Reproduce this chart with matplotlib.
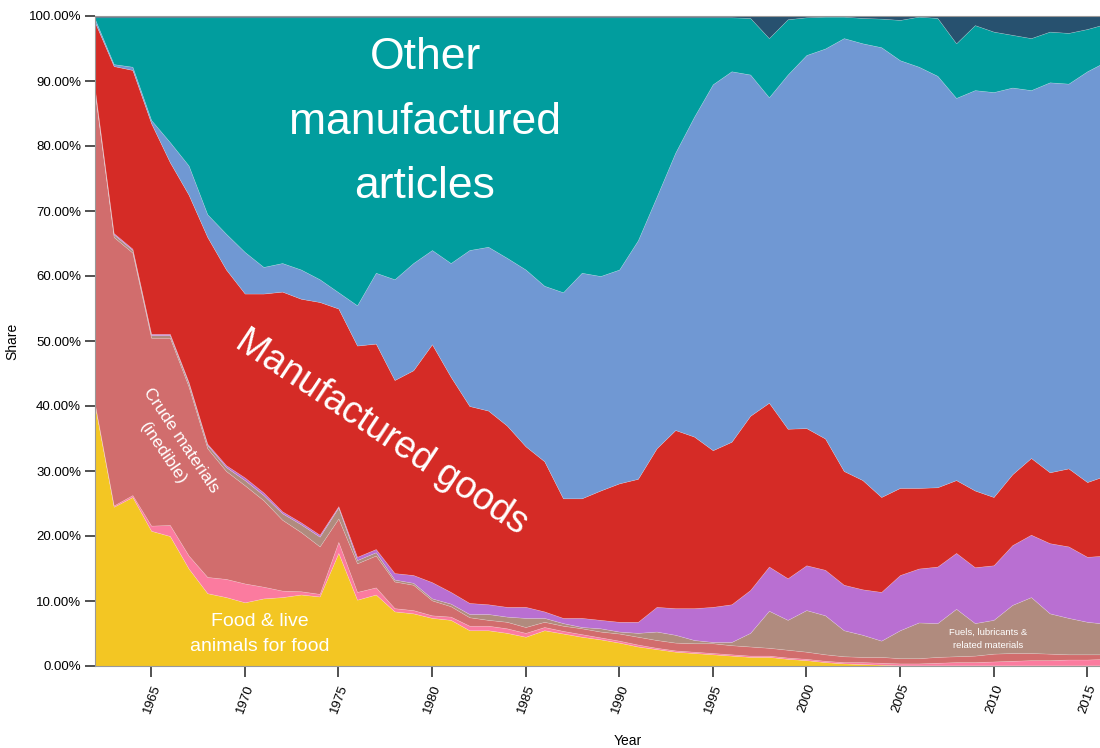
import matplotlib
matplotlib.use("Agg")
import matplotlib.pyplot as plt
import numpy as np

plt.rcParams['font.family'] = ['Liberation Sans', 'DejaVu Sans']

years = list(range(1962, 2017))

food = [40.0, 24.5, 26.0, 20.8, 20.0, 15.0, 11.2, 10.6, 9.8, 10.4,
        10.6, 11.0, 10.7, 17.4, 10.2, 11.0, 8.4, 8.1, 7.4, 7.1,
        5.5, 5.5, 5.1, 4.5, 5.5, 5.0, 4.5, 4.1, 3.6, 3.0,
        2.6, 2.2, 2.0, 1.8, 1.6, 1.4, 1.4, 1.1, 0.9, 0.6,
        0.4, 0.3, 0.2, 0.1, 0.1, 0.1, 0.1, 0.1, 0.1, 0.1,
        0.1, 0.1, 0.1, 0.1, 0.1]
beverages = [0.2, 0.2, 0.3, 0.8, 1.7, 2.0, 2.5, 2.8, 2.9, 1.8,
             1.0, 0.5, 0.4, 1.7, 1.2, 1.1, 0.5, 0.5, 0.4, 0.5,
             0.7, 0.7, 0.7, 0.6, 0.5, 0.4, 0.4, 0.3, 0.3, 0.3,
             0.2, 0.2, 0.2, 0.2, 0.2, 0.2, 0.2, 0.2, 0.2, 0.2,
             0.2, 0.3, 0.3, 0.3, 0.3, 0.4, 0.5, 0.5, 0.6, 0.7,
             0.8, 0.8, 0.9, 0.9, 1.0]
crude = [47.8, 41.3, 37.3, 28.9, 28.8, 26.0, 19.8, 16.6, 15.1, 13.3,
         10.9, 9.1, 7.3, 3.6, 4.4, 4.9, 4.1, 3.9, 2.3, 1.6,
         1.3, 0.9, 1.0, 0.9, 0.8, 0.8, 0.9, 0.9, 1.1, 1.2,
         1.2, 1.2, 1.3, 1.5, 1.4, 1.4, 1.2, 1.2, 1.1, 1.0,
         0.9, 0.8, 0.9, 0.8, 0.8, 0.9, 0.9, 1.0, 1.2, 1.2,
         1.1, 1.0, 0.8, 0.8, 0.7]
fuels = [0.4, 0.4, 0.4, 0.4, 0.4, 0.5, 0.5, 0.6, 0.8, 0.8,
         1.0, 1.2, 1.5, 1.7, 0.5, 0.5, 0.3, 0.3, 0.3, 0.4,
         0.5, 0.9, 0.8, 1.4, 0.6, 0.4, 0.2, 0.5, 0.3, 0.6,
         1.3, 1.2, 0.5, 0.2, 0.5, 2.1, 5.7, 4.6, 6.4, 6.0,
         4.0, 3.4, 2.5, 4.3, 5.5, 5.2, 7.3, 5.0, 5.2, 7.4,
         8.6, 6.2, 5.6, 5.0, 4.7]
chemicals = [0.2, 0.2, 0.2, 0.2, 0.2, 0.2, 0.2, 0.3, 0.4, 0.4,
             0.3, 0.3, 0.3, 0.2, 0.5, 0.5, 1.0, 1.2, 2.5, 1.8,
             1.7, 1.5, 1.5, 1.7, 1.0, 0.8, 1.4, 1.3, 1.5, 1.7,
             3.8, 4.1, 4.9, 5.4, 5.8, 6.6, 6.8, 6.4, 6.9, 7.0,
             7.0, 7.0, 7.5, 8.5, 8.3, 8.7, 8.6, 8.6, 8.4, 9.2,
             9.6, 10.8, 11.0, 10.0, 10.5]
manufactured = [10.4, 25.7, 27.5, 32.4, 26.4, 28.8, 31.8, 30.1, 28.3, 30.6,
                33.8, 34.4, 35.8, 30.4, 32.5, 31.6, 29.7, 31.5, 36.6, 33.1,
                30.3, 29.8, 27.9, 24.7, 23.1, 18.4, 18.4, 19.9, 21.3, 22.0,
                24.4, 27.4, 26.4, 24.1, 25.0, 26.8, 25.2, 23.0, 21.1, 20.2,
                17.5, 16.8, 14.6, 13.4, 12.4, 12.2, 11.2, 11.8, 10.5, 10.9,
                11.8, 10.9, 12.0, 11.5, 12.3]
machinery = [0.5, 0.3, 0.5, 0.5, 3.1, 4.5, 3.5, 5.5, 6.4, 4.1,
             4.4, 4.5, 3.5, 2.5, 6.2, 10.9, 15.5, 16.5, 14.5, 17.5,
             24.0, 25.2, 25.8, 27.2, 27.0, 31.7, 34.7, 33.0, 32.9, 36.7,
             38.7, 42.7, 49.2, 56.3, 57.0, 52.5, 47.0, 54.5, 57.4, 60.0,
             66.6, 67.2, 69.2, 65.8, 64.8, 63.3, 58.8, 61.6, 62.3, 59.5,
             56.6, 60.0, 59.2, 63.2, 63.7]
other_manuf = [0.3, 7.2, 7.6, 15.8, 19.2, 22.8, 30.3, 33.3, 36.1, 38.4,
               37.8, 38.8, 40.3, 42.3, 44.3, 39.3, 40.3, 37.8, 35.8, 37.8,
               35.8, 35.3, 37.0, 38.8, 41.3, 42.3, 39.3, 39.8, 38.8, 34.3,
               27.6, 20.8, 15.3, 10.3, 8.3, 8.7, 9.1, 8.5, 5.8, 4.9,
               3.3, 3.9, 4.4, 6.2, 7.7, 8.9, 8.4, 10.0, 9.3, 8.1,
               8.0, 7.8, 7.8, 6.5, 5.8]
not_classified = [0.2, 0.2, 0.2, 0.2, 0.2, 0.2, 0.2, 0.2, 0.2, 0.2,
                  0.2, 0.2, 0.2, 0.2, 0.2, 0.2, 0.2, 0.2, 0.2, 0.2,
                  0.2, 0.2, 0.2, 0.2, 0.2, 0.2, 0.2, 0.2, 0.2, 0.2,
                  0.2, 0.2, 0.2, 0.2, 0.2, 0.3, 3.4, 0.5, 0.2, 0.1,
                  0.1, 0.3, 0.4, 0.6, 0.1, 0.3, 4.2, 1.4, 2.4, 2.9,
                  3.4, 2.4, 2.6, 2.0, 1.2]

series = [food, beverages, crude, fuels, chemicals, manufactured,
          machinery, other_manuf, not_classified]
colors = ['#f3c623', '#fb7b9f', '#d16d6d', '#b08b7e', '#b96fd2',
          '#d52b26', '#7098d3', '#019d9e', '#27516f']

data = np.array(series, dtype=float)
shares = data / data.sum(axis=0) * 100.0

fig = plt.figure(figsize=(11, 7.48), dpi=100)
ax = fig.add_axes([95 / 1100, 82 / 748, 1005 / 1100, 650 / 748])

ax.stackplot(years, shares, colors=colors, linewidth=0.4,
             edgecolor=(1, 1, 1, 0.25))

ax.set_xlim(1962, 1962 + 1005 / 18.72)
ax.set_ylim(0, 100)

ax.set_yticks(np.arange(0, 101, 10))
ax.set_yticklabels([f"{v:.2f}%" for v in range(0, 101, 10)], fontsize=9.5)
ax.set_xticks(range(1965, 2016, 5))
ax.set_xticklabels([str(y) for y in range(1965, 2016, 5)], fontsize=9.5,
                   rotation=70, ha='right', rotation_mode='anchor')
ax.tick_params(axis='y', length=7, width=1.2, color='#333333', pad=3)
ax.tick_params(axis='x', length=8, width=1.2, color='#333333', pad=4)

for side in ['left', 'bottom', 'top']:
    ax.spines[side].set_color('#999999')
    ax.spines[side].set_linewidth(0.8)
ax.spines['right'].set_visible(False)

ax.set_xlabel('Year', fontsize=10)
ax.xaxis.set_label_coords(0.53, -0.105)
ax.set_ylabel('Share', fontsize=10)
ax.yaxis.set_label_coords(-0.075, 0.5)

def px2data(px, py):
    return 1962 + (px - 95) / 18.72, (666 - py) / 6.5

x, y = px2data(425, 122)
ax.text(x, y, 'Other\nmanufactured\narticles', color='white', fontsize=32,
        ha='center', va='center', linespacing=1.72)
x, y = px2data(382, 432)
ax.text(x, y, 'Manufactured goods', color='white', fontsize=27,
        ha='center', va='center', rotation=-33.5, rotation_mode='anchor')
x, y = px2data(172, 447)
ax.text(x, y, 'Crude materials\n(inedible)', color='white', fontsize=12.5,
        ha='center', va='center', rotation=-56, rotation_mode='anchor',
        multialignment='center', linespacing=1.6)
x, y = px2data(260, 634)
ax.text(x, y, 'Food & live\nanimals for food', color='white', fontsize=14,
        ha='center', va='center', linespacing=1.55)
x, y = px2data(988, 639)
ax.text(x, y, 'Fuels, lubricants &\nrelated materials', color='white',
        fontsize=6.8, ha='center', va='center', linespacing=1.6)

fig.savefig('out.png', dpi=100)
